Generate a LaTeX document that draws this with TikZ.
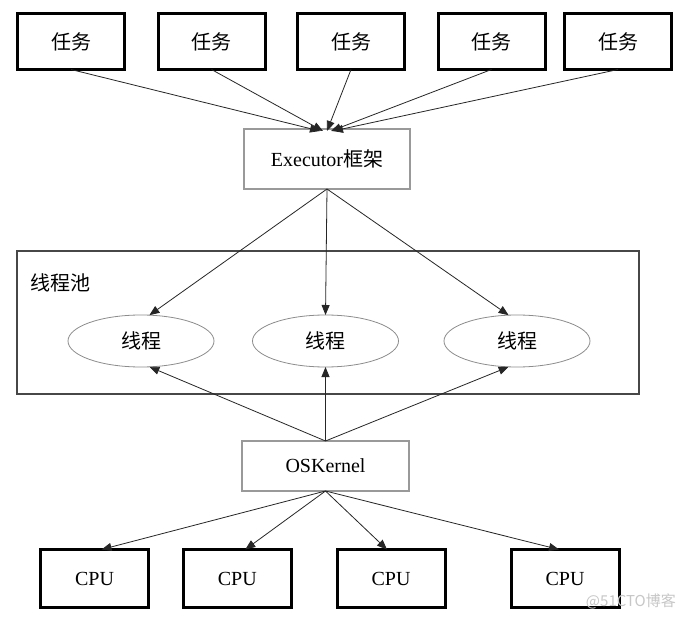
\documentclass[tikz,border=0pt]{standalone}
\usepackage{fontspec}
\setmainfont{Liberation Serif}
\newfontfamily\cjk{Noto Sans CJK SC}
\usetikzlibrary{arrows.meta,shapes.geometric}
\begin{document}
\begin{tikzpicture}[x=1pt,y=-1pt,
  taskbox/.style={draw=black, line width=3pt, minimum width=107pt, minimum height=56pt, inner sep=0pt, outer sep=0pt, font=\cjk\fontsize{20}{20}\selectfont},
  cpubox/.style={draw=black, line width=3pt, minimum width=108pt, minimum height=58pt, inner sep=0pt, outer sep=0pt, font=\fontsize{20}{20}\selectfont},
  graybox/.style={draw=black!40, line width=2pt, inner sep=0pt, outer sep=0pt, font=\fontsize{20}{20}\selectfont},
  poolbox/.style={draw=black!72, line width=2.5pt},
  threadell/.style={ellipse, draw=black!45, line width=0.8pt, minimum width=146pt, minimum height=52pt, inner sep=0pt, outer sep=0pt, font=\cjk\fontsize{20}{20}\selectfont},
  arr/.style={draw=black!85, line width=0.8pt, -{Triangle[length=10pt,width=8pt]}},
  wm/.style={text=black!22, font=\cjk\fontsize{15}{15}\selectfont, inner sep=0pt}
]
\useasboundingbox (0,0) rectangle (685,620);
\fill[white] (0,0) rectangle (685,620);

% tasks
\node[taskbox] (t1) at (71,41.5) {任务};
\node[taskbox] (t2) at (211.5,41.5) {任务};
\node[taskbox] (t3) at (351,41.5) {任务};
\node[taskbox] (t4) at (491.5,41.5) {任务};
\node[taskbox] (t5) at (618,41.5) {任务};

% executor
\node[graybox, minimum width=166pt, minimum height=60pt] (ex) at (327,159) {Executor{\cjk 框架}};

% pool
\draw[poolbox] (17,251) rectangle (639,394);
\node[anchor=west, inner sep=0pt, font=\cjk\fontsize{20}{20}\selectfont] (pl) at (30,283) {线程池};

\node[threadell] (e1) at (141,341) {线程};
\node[threadell] (e2) at (325.5,341) {线程};
\node[threadell] (e3) at (517,341) {线程};

% kernel
\node[graybox, minimum width=167pt, minimum height=50pt] (ok) at (325.5,466) {OSKernel};

% cpus
\node[cpubox] (c1) at (94.5,578.5) {CPU};
\node[cpubox] (c2) at (237.3,578.5) {CPU};
\node[cpubox] (c3) at (391,578.5) {CPU};
\node[cpubox] (c4) at (565,578.5) {CPU};

% arrows tasks -> executor
\draw[arr] (t1.south) -- ([xshift=-7pt,yshift=-2pt]ex.north);
\draw[arr] (t2.south) -- ([xshift=-4pt,yshift=-2pt]ex.north);
\draw[arr] (t3.south) -- ([xshift=0pt,yshift=-2pt]ex.north);
\draw[arr] (t4.south) -- ([xshift=4pt,yshift=-2pt]ex.north);
\draw[arr] (t5.south) -- ([xshift=6pt,yshift=-2pt]ex.north);

% executor -> threads
\draw[arr] (ex.south) -- (e1.72);
\draw[arr] (ex.south) -- (e2.north);
\draw[arr] (ex.south) -- (e3.108);

% kernel -> threads
\draw[arr] (ok.north) -- (e1.288);
\draw[arr] (ok.north) -- (e2.south);
\draw[arr] (ok.north) -- (e3.252);

% kernel -> cpus
\draw[arr] (ok.south) -- ([xshift=7pt]c1.north);
\draw[arr] (ok.south) -- ([xshift=8pt]c2.north);
\draw[arr] (ok.south) -- ([xshift=-4pt]c3.north);
\draw[arr] (ok.south) -- ([xshift=-6pt]c4.north);

% watermark
\node[wm, anchor=east] (w) at (676,601) {@51CTO博客};
\end{tikzpicture}
\end{document}
